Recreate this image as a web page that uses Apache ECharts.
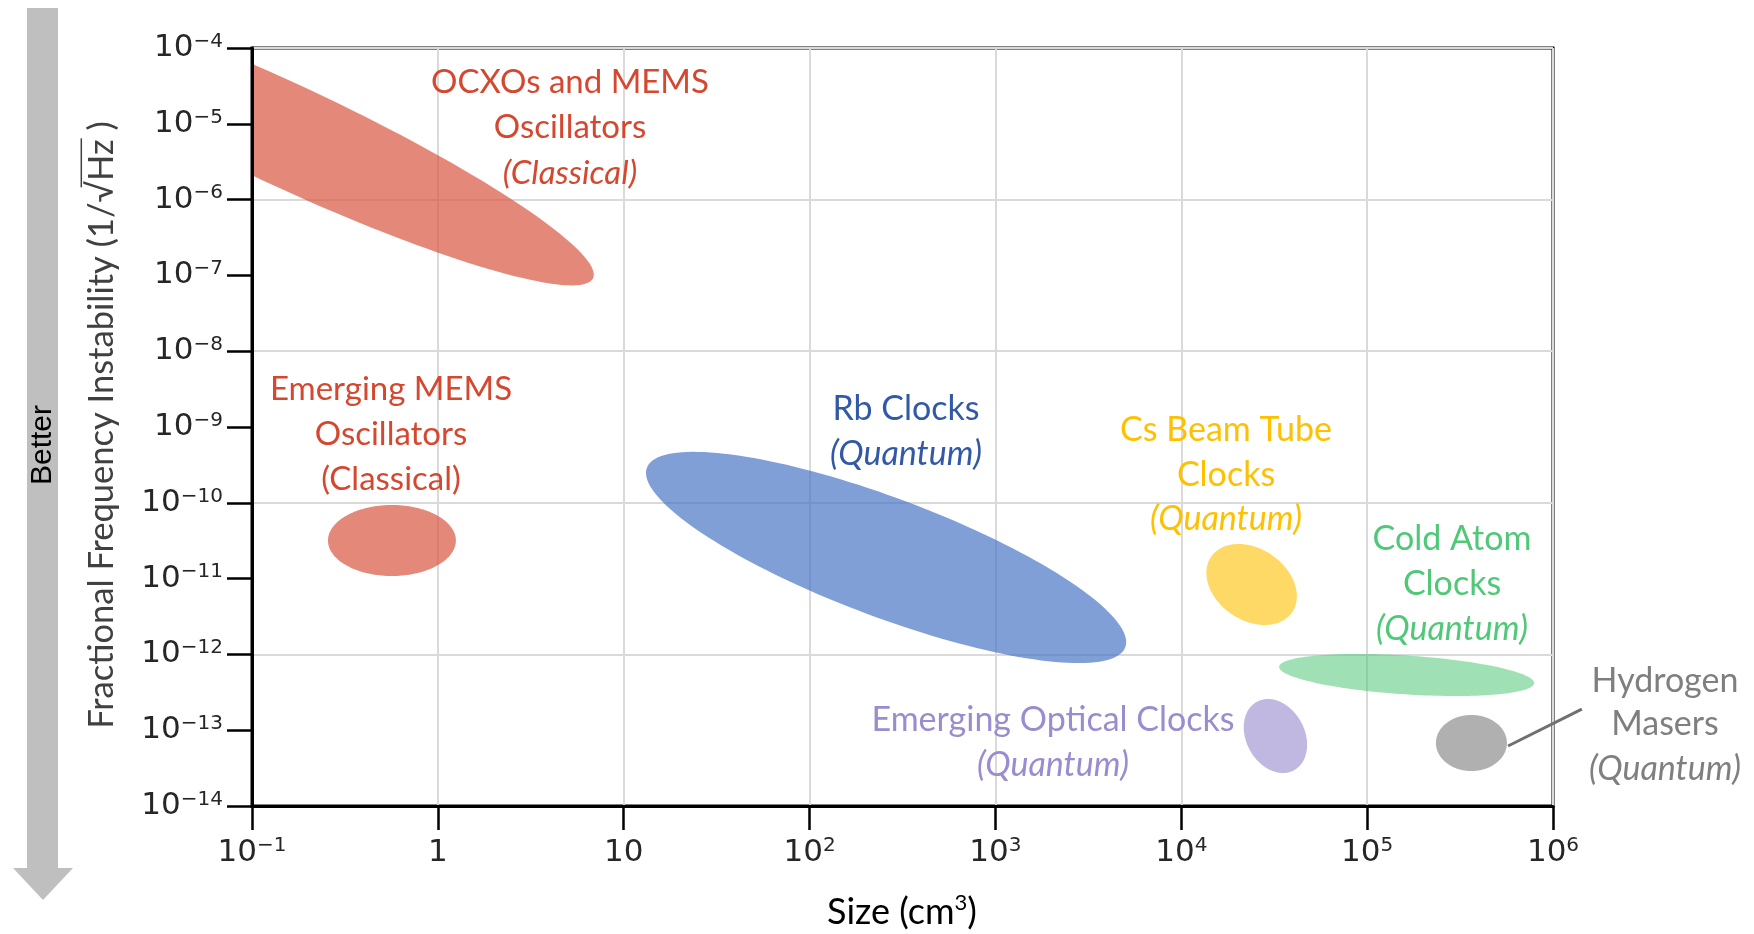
<!DOCTYPE html>
<html>
<head>
<meta charset="utf-8">
<script src="https://cdn.jsdelivr.net/npm/echarts@6/dist/echarts.min.js"></script>
<style>
html,body{margin:0;padding:0;background:#ffffff;}
#chart{width:1754px;height:934px;}
</style>
</head>
<body>
<div id="chart"></div>
<script>
// ---------------- data ----------------
const regionNames = ['OCXOs and MEMS Oscillators', 'Emerging MEMS Oscillators', 'Rb Clocks',
  'Cs Beam Tube Clocks', 'Cold Atom Clocks', 'Emerging Optical Clocks', 'Hydrogen Masers'];
// ellipse centre (size cm^3, instability)
const centerSize        = [0.149, 0.566, 258, 23900, 163000, 32100, 364000];
const centerInstability = [7.3e-6, 3.18e-11, 1.9e-11, 8.36e-12, 5.35e-13, 8.38e-14, 6.78e-14];
// end of the major half-axis
const majorEndSize        = [6.84, 1.25, 5000, 39600, 791000, 40300, 565000];
const majorEndInstability = [9.2e-8, 3.18e-11, 1.25e-12, 3.64e-12, 4.17e-13, 2.95e-14, 6.78e-14];
// end of the minor half-axis
const minorEndSize        = [0.194, 0.566, 331, 30500, 165000, 44200, 364000];
const minorEndInstability = [2.98e-5, 9.35e-11, 1.04e-10, 2.07e-11, 9.64e-13, 1.27e-13, 1.59e-13];
// leader line for Hydrogen Masers label
const leaderStart = [573000, 6.19e-14];
const leaderEnd   = [1.43e6, 1.9e-13];

const xTickExponents = [-1, 0, 1, 2, 3, 4, 5, 6];
const xTickLabels = [['10','−1'], ['1',''], ['10',''], ['10','2'], ['10','3'], ['10','4'], ['10','5'], ['10','6']];
const yTickExponents = [-14, -13, -12, -11, -10, -9, -8, -7, -6, -5, -4];
const yTickLabels = [['10','−14'], ['10','−13'], ['10','−12'], ['10','−11'], ['10','−10'], ['10','−9'],
  ['10','−8'], ['10','−7'], ['10','−6'], ['10','−5'], ['10','−4']];

// ---------------- styles ----------------
const fills = ['rgba(217,87,65,0.7)', 'rgba(217,87,65,0.7)', 'rgba(68,114,196,0.68)',
  'rgba(255,192,0,0.6)', 'rgba(80,200,120,0.55)', 'rgba(140,125,200,0.55)', 'rgba(128,128,128,0.62)'];

const LFONT = 'Lato';
const DY = 2.5;
const labelBlocks = [
  {x: 570, base: [93, 138, 184], lines: ['OCXOs and MEMS', 'Oscillators', '(Classical)'], italic: [false,false,true], color: '#D5472F', size: 33},
  {x: 391, base: [400, 445, 490], lines: ['Emerging MEMS', 'Oscillators', '(Classical)'], italic: [false,false,false], color: '#D5472F', size: 33},
  {x: 906, base: [420, 465], lines: ['Rb Clocks', '(Quantum)'], italic: [false,true], color: '#3259A8', size: 34},
  {x: 1226, base: [441, 486, 530], lines: ['Cs Beam Tube', 'Clocks', '(Quantum)'], italic: [false,false,true], color: '#FFC000', size: 34},
  {x: 1452, base: [550, 595, 640], lines: ['Cold Atom', 'Clocks', '(Quantum)'], italic: [false,false,true], color: '#50C878', size: 34},
  {x: 1053, base: [731, 776], lines: ['Emerging Optical Clocks', '(Quantum)'], italic: [false,true], color: '#9A8CCF', size: 34},
  {x: 1665, base: [692, 735, 780], lines: ['Hydrogen', 'Masers', '(Quantum)'], italic: [false,false,true], color: '#7F7F7F', size: 34}
];

const graphics = [];
labelBlocks.forEach(b => {
  b.lines.forEach((t, i) => {
    graphics.push({
      type: 'text', x: b.x, y: b.base[i] + DY - b.size * 0.387, z: 10,
      style: {text: t, fill: b.color, fontFamily: LFONT, fontSize: b.size,
        fontStyle: b.italic[i] ? 'italic' : 'normal',
        align: 'center', verticalAlign: 'middle', textAlign: 'center', textVerticalAlign: 'middle'}
    });
  });
});

// "Better" arrow
graphics.push({
  type: 'polygon', z: 1,
  shape: {points: [[27,8],[58,8],[58,868],[73,868],[43,900],[13,868],[27,868]]},
  style: {fill: '#BFBFBF'}
});
graphics.push({
  type: 'text', x: 43, y: 445, rotation: Math.PI / 2, z: 10,
  style: {text: 'Better', fill: '#000', fontFamily: 'Liberation Sans', fontSize: 30,
    align: 'center', verticalAlign: 'middle', textAlign: 'center', textVerticalAlign: 'middle'}
});

// y-axis title with radical overline
const TSIZE = 34.5;
const ctx = document.createElement('canvas').getContext('2d');
ctx.font = TSIZE + 'px ' + LFONT;
const titleFull = 'Fractional Frequency Instability (1/√Hz )';
const prefix = 'Fractional Frequency Instability (1/';
const W = ctx.measureText(titleFull).width;
const wPre = ctx.measureText(prefix).width;
const wSq = ctx.measureText('√').width;
const wHz = ctx.measureText('Hz').width;
graphics.push({
  type: 'group', x: 102, y: 425, rotation: Math.PI / 2, z: 10,
  children: [
    {type: 'text', x: 0, y: 0, style: {text: titleFull, fill: '#404040', fontFamily: LFONT, fontSize: TSIZE,
      align: 'center', verticalAlign: 'middle', textAlign: 'center', textVerticalAlign: 'middle'}},
    {type: 'line', shape: {x1: -W/2 + wPre + wSq * 0.7, y1: -TSIZE * 0.6, x2: -W/2 + wPre + wSq + wHz + 1, y2: -TSIZE * 0.6},
      style: {stroke: '#404040', lineWidth: 1.5}}
  ]
});
// x-axis title
graphics.push({
  type: 'text', x: 902, y: 926 - 36 * 0.387, z: 10,
  style: {text: '{t|Size (cm}{s|3}{t|)}', align: 'center', verticalAlign: 'middle', textAlign: 'center', textVerticalAlign: 'middle',
    rich: {t: {fontFamily: LFONT, fontSize: 36, color: '#404040', lineHeight: 40},
           s: {fontFamily: LFONT, fontSize: 22, color: '#404040', verticalAlign: 'top', lineHeight: 22}}}
});

function expOf(v) { return Math.round(Math.log(v) / Math.LN10); }
const tickRich = {
  b: {fontFamily: 'DejaVu Sans', fontSize: 31, color: '#262626', lineHeight: 33},
  s: {fontFamily: 'DejaVu Sans', fontSize: 20, color: '#262626', lineHeight: 20, verticalAlign: 'top'}
};
function fmt(exps, labels) {
  return function (v) {
    const i = exps.indexOf(expOf(v));
    if (i < 0) return '';
    const l = labels[i];
    return '{b|' + l[0] + '}' + (l[1] ? '{s|' + l[1] + '}' : '');
  };
}

const ellipseData = regionNames.map((n, i) => [centerSize[i], centerInstability[i],
  majorEndSize[i], majorEndInstability[i], minorEndSize[i], minorEndInstability[i]]);

function renderEllipse(params, api) {
  const c = api.coord([api.value(0), api.value(1)]);
  const t = api.coord([api.value(2), api.value(3)]);
  const s = api.coord([api.value(4), api.value(5)]);
  const ux = t[0] - c[0], uy = t[1] - c[1], vx = s[0] - c[0], vy = s[1] - c[1];
  const pts = [];
  const N = 160;
  for (let k = 0; k < N; k++) {
    const a = 2 * Math.PI * k / N;
    pts.push([c[0] + ux * Math.cos(a) + vx * Math.sin(a), c[1] + uy * Math.cos(a) + vy * Math.sin(a)]);
  }
  return {type: 'polygon', shape: {points: pts}, style: {fill: fills[params.dataIndex]}};
}

function renderLeader(params, api) {
  const a = api.coord([api.value(0), api.value(1)]);
  const b = api.coord([api.value(2), api.value(3)]);
  return {type: 'line', shape: {x1: a[0], y1: a[1], x2: b[0], y2: b[1]}, style: {stroke: '#707070', lineWidth: 3}};
}

const chart = echarts.init(document.getElementById('chart'), null, {renderer: 'canvas'});
chart.setOption({
  animation: false,
  backgroundColor: '#ffffff',
  grid: {left: 252, right: 201, top: 48, bottom: 128, show: true, borderColor: '#000', borderWidth: 3, backgroundColor: 'transparent'},
  xAxis: {
    type: 'log', logBase: 10, min: 0.1, max: 1e6, interval: 1,
    axisLine: {show: true, lineStyle: {color: '#000', width: 3}},
    axisTick: {show: true, length: 24, lineStyle: {color: '#000', width: 2.5}},
    splitLine: {show: true, lineStyle: {color: '#DADADA', width: 2}},
    minorTick: {show: false}, minorSplitLine: {show: false},
    axisLabel: {margin: 30, formatter: fmt(xTickExponents, xTickLabels), rich: tickRich, showMinLabel: true, showMaxLabel: true}
  },
  yAxis: [{
    type: 'log', logBase: 10, min: 1e-14, max: 1e-4, interval: 1, z: 5,
    axisLine: {show: true, lineStyle: {color: '#000', width: 3}},
    axisTick: {show: true, length: 25, lineStyle: {color: '#000', width: 2.5}},
    splitLine: {show: false},
    axisLabel: {margin: 29, formatter: fmt(yTickExponents, yTickLabels), rich: tickRich, showMinLabel: true, showMaxLabel: true}
  }, {
    type: 'log', logBase: 10, min: 1e-14, max: 1e-4, interval: 2, position: 'left',
    axisLine: {show: false}, axisTick: {show: false}, axisLabel: {show: false},
    splitLine: {show: true, lineStyle: {color: '#DADADA', width: 2}}
  }],
  series: [{
    type: 'custom', name: 'regions', coordinateSystem: 'cartesian2d', clip: true, z: 2,
    renderItem: renderEllipse, encode: {x: [0, 2, 4], y: [1, 3, 5]},
    data: ellipseData
  }, {
    type: 'custom', name: 'leader', coordinateSystem: 'cartesian2d', clip: false, z: 3,
    renderItem: renderLeader, encode: {x: [0, 2], y: [1, 3]},
    data: [[leaderStart[0], leaderStart[1], leaderEnd[0], leaderEnd[1]]]
  }],
  graphic: graphics
});
</script>
</body>
</html>
